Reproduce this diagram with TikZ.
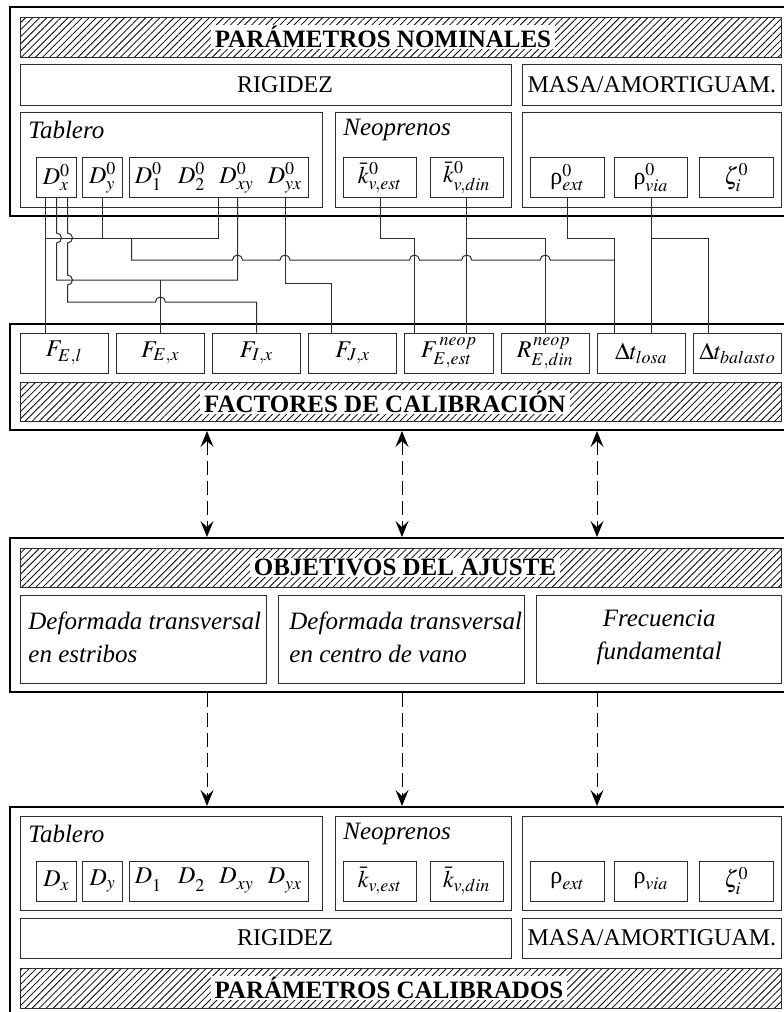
\documentclass[tikz,border=0pt]{standalone}
\usepackage{mathptmx}
\usepackage{fontspec}
\setmainfont{Liberation Serif}
\usetikzlibrary{arrows.meta,positioning,patterns.meta,calc}
\definecolor{figline}{RGB}{45,45,45}
\tikzset{
  fsize/.style 2 args={minimum width=#1*0.5pt,minimum height=#2*0.5pt},
  fouter/.style={draw=black,line width=1pt,inner sep=0pt},
  fbox/.style={draw=figline,line width=0.5pt,inner sep=0pt,
               font=\fontsize{12}{14}\selectfont},
  fband/.style={draw=figline,line width=0.5pt,inner sep=0pt,
                pattern={Lines[angle=45,distance=2.5pt,line width=0.4pt]}},
  ftitle/.style={fill=white,inner xsep=2pt,inner ysep=0.6pt,
                 font=\fontsize{12.5}{14}\selectfont\bfseries},
  ftext/.style={inner sep=0pt,font=\fontsize{12}{14}\selectfont},
  flabel/.style={inner sep=0pt,anchor=west,font=\fontsize{12.5}{14}\selectfont\itshape},
  fobj/.style={inner sep=0pt,font=\fontsize{12.5}{16.5}\selectfont\itshape},
  fwire/.style={draw=figline,line width=0.5pt},
  ftip/.style={Stealth[length=8pt,width=6.5pt,inset=3pt]},
  farrow/.style={{Stealth[length=8pt,width=6.5pt,inset=3pt]}-{Stealth[length=8pt,width=6.5pt,inset=3pt]},
                 dash pattern=on 7pt off 3pt,line width=0.5pt},
  fdown/.style={-{Stealth[length=8pt,width=6.5pt,inset=3pt]},
                dash pattern=on 7pt off 3pt,line width=0.5pt},
}
\newcommand{\dgroup}[1]{$D_1^{#1}$\hspace{8pt}$D_2^{#1}$\hspace{7pt}$D_{xy}^{#1}$\hspace{7pt}$D_{yx}^{#1}$}

\begin{document}
\begin{tikzpicture}[x=0.5pt,y=-0.5pt]
  \useasboundingbox (0,0) rectangle (783,1012);

  % parametros nominales
  \node[fouter,fsize={785}{209}] (nomOut) at (402.5,111.5) {};
  \node[fband,fsize={761.7}{40}] (nomBand) at (400.85,37) {};
  \node[ftitle] (nomTitle) at (383,37) {PARÁMETROS NOMINALES};
  \node[fbox,fsize={491}{41}] (nomRig) at (265.5,84.5) {};
  \node[ftext] (nomRigTxt) at (285,84.5) {RIGIDEZ};
  \node[fbox,fsize={258.3}{41}] (nomMas) at (651.85,84.5) {MASA/AMORTIGUAM.};
  \node[fbox,fsize={302}{95}] (nomTab) at (171,159.5) {};
  \node[fbox,fsize={176}{95}] (nomNeo) at (423,159.5) {};
  \node[fbox,fsize={258.3}{95}] (nomMsb) at (651.85,159.5) {};
  \node[flabel] (nomTabTxt) at (28,130) {Tablero};
  \node[flabel] (nomNeoTxt) at (343,130) {Neoprenos};
  \node[fbox,fsize={39.4}{39.6}] (Dx0) at (56.5,177.5) {$D_x^0$};
  \node[fbox,fsize={40}{39.6}] (Dy0) at (102.7,177.5) {$D_y^0$};
  \node[fbox,fsize={179}{39.6}] (Dg0) at (218.5,177.5) {\dgroup{0}};
  \node[fbox,fsize={73.4}{39.6}] (kes0) at (380,177.5) {$\bar{k}_{v,est}^{0}$};
  \node[fbox,fsize={73.4}{39.6}] (kdi0) at (466.7,177.5) {$\bar{k}_{v,din}^{0}$};
  \node[fbox,fsize={73.6}{39.6}] (rex0) at (567.7,177.5) {$\mbox{ρ}^{0}_{ext}$};
  \node[fbox,fsize={73.4}{39.6}] (rvi0) at (651,177.5) {$\mbox{ρ}^{0}_{via}$};
  \node[fbox,fsize={74}{39.6}] (zet0) at (736.3,177.5) {$\zeta^{0}_{i}$};

  % factores de calibracion
  \node[fouter,fsize={785}{106}] (facOut) at (402.5,377) {};
  \node[fbox,fsize={88.3}{40}] (FEl) at (64.2,353) {$F_{E,l}$};
  \node[fbox,fsize={88.3}{40}] (FEx) at (160.4,353) {$F_{E,x}$};
  \node[fbox,fsize={88.3}{40}] (FIx) at (256.6,353) {$F_{I,x}$};
  \node[fbox,fsize={88.3}{40}] (FJx) at (352.8,353) {$F_{J,x}$};
  \node[fbox,fsize={88.3}{40}] (FEs) at (449,353) {$F^{\,neop}_{E,est}$};
  \node[fbox,fsize={88.3}{40}] (RE) at (545.2,353) {$R^{\,neop}_{E,din}$};
  \node[fbox,fsize={88.3}{40}] (Dlo) at (641.4,353) {$\Delta t_{losa}$};
  \node[fbox,fsize={88.3}{40}] (Dba) at (737.6,353) {$\Delta t_{balasto}$};
  \node[fband,fsize={761.7}{39.5}] (facBand) at (400.85,401.75) {};
  \node[ftitle] (facTitle) at (385,401.75) {FACTORES DE CALIBRACIÓN};

  % conexiones
  \draw[fwire] (45.5,0 |- Dx0.south) -- (45.5,0 |- FEl.north);
  \draw[fwire] (45.5,238) -- (Dg0.south |- 0,238) -- (Dg0.south);
  \draw[fwire] (Dy0.south) -- (Dy0.south |- 0,238);
  \draw[fwire] (131.5,238) -- (131.5,260)
    \foreach \h in {237.5,285,414.5,466.7,545.2}{ -- (\h-5,260) arc[start angle=180,end angle=360,radius=5]}
    -- (614.5,260);
  \draw[fwire] (rex0.south) -- (rex0.south |- 0,238) -- (614.5,238) -- (614.5,0 |- Dlo.north);
  \draw[fwire] (56.5,0 |- Dx0.south) -- (56.5,233) arc[start angle=-90,end angle=90,radius=5]
    -- (56.5,280) -- (237.5,280) -- (237.5,0 |- Dg0.south);
  \draw[fwire] (FEx.north |- 0,280) -- (FEx.north);
  \draw[fwire] (67.5,0 |- Dx0.south) -- (67.5,233) arc[start angle=-90,end angle=90,radius=5]
    -- (67.5,275) arc[start angle=-90,end angle=90,radius=5] -- (67.5,302)
    -- (155.4,302) arc[start angle=180,end angle=360,radius=5] -- (FIx.north |- 0,302) -- (FIx.north);
  \draw[fwire] (285,0 |- Dg0.south) -- (285,283) -- (331.5,283) -- (331.5,0 |- FJx.north);
  \draw[fwire] (kes0.south) -- (kes0.south |- 0,238) -- (414.5,238) -- (414.5,0 |- FEs.north);
  \draw[fwire] (kdi0.south) -- (kdi0.south |- FEs.north);
  \draw[fwire] (kdi0.south |- 0,238) -- (RE.north |- 0,238) -- (RE.north);
  \draw[fwire] (rvi0.south) -- (rvi0.south |- Dlo.north);
  \draw[fwire] (rvi0.south |- 0,238) -- (708.5,238) -- (708.5,0 |- Dba.north);

  % objetivos del ajuste
  \node[fouter,fsize={785}{154}] (objOut) at (402.5,615) {};
  \node[fband,fsize={761.7}{39}] (objBand) at (400.85,567.5) {};
  \node[ftitle] (objTitle) at (405,567.5) {OBJETIVOS DEL AJUSTE};
  \node[fbox,fsize={246}{88}] (obj1) at (143,639) {};
  \node[fbox,fsize={245.7}{88}] (obj2) at (401.15,639) {};
  \node[fbox,fsize={245}{88}] (obj3) at (659.2,639) {};
  \node[fobj,anchor=west,align=left] (obj1Txt) at (28,637) {Deformada transversal\\en estribos};
  \node[fobj,anchor=west,align=left] (obj2Txt) at (289,637) {Deformada transversal\\en centro de vano};
  \node[fobj,align=center] (obj3Txt) at (659.2,637) {Frecuencia\\fundamental};

  % parametros calibrados
  \node[fouter,fsize={785}{213}] (calOut) at (402.5,913.5) {};
  \node[fbox,fsize={302}{94}] (calTab) at (171,863) {};
  \node[fbox,fsize={176}{94}] (calNeo) at (423,863) {};
  \node[fbox,fsize={258.3}{94}] (calMsb) at (651.85,863) {};
  \node[flabel] (calTabTxt) at (28,834) {Tablero};
  \node[flabel] (calNeoTxt) at (343,834) {Neoprenos};
  \node[fbox,fsize={39.4}{40}] (Dx1) at (56.5,881) {$D_x$};
  \node[fbox,fsize={40}{40}] (Dy1) at (102.7,881) {$D_y$};
  \node[fbox,fsize={179}{40}] (Dg1) at (218.5,881) {\dgroup{}};
  \node[fbox,fsize={73.4}{40}] (kes1) at (380,881) {$\bar{k}_{v,est}$};
  \node[fbox,fsize={73.4}{40}] (kdi1) at (466.7,881) {$\bar{k}_{v,din}$};
  \node[fbox,fsize={73.6}{40}] (rex1) at (567.7,881) {$\mbox{ρ}_{ext}$};
  \node[fbox,fsize={73.4}{40}] (rvi1) at (651,881) {$\mbox{ρ}_{via}$};
  \node[fbox,fsize={74}{40}] (zet1) at (736.3,881) {$\zeta^{0}_{i}$};
  \node[fbox,fsize={491}{40}] (calRig) at (265.5,938) {};
  \node[ftext] (calRigTxt) at (285,938) {RIGIDEZ};
  \node[fbox,fsize={258.3}{40}] (calMas) at (651.85,938) {MASA/AMORTIGUAM.};
  \node[fband,fsize={761.7}{40}] (calBand) at (400.85,988) {};
  \node[ftitle] (calTitle) at (389,988) {PARÁMETROS CALIBRADOS};

  % flechas
  \foreach \ax in {207,402,597}{
    \draw[farrow] (\ax,0 |- facOut.south) -- (\ax,0 |- objOut.north);
    \draw[fdown] (\ax,0 |- objOut.south) -- (\ax,0 |- calOut.north);
  }
\end{tikzpicture}
\end{document}
